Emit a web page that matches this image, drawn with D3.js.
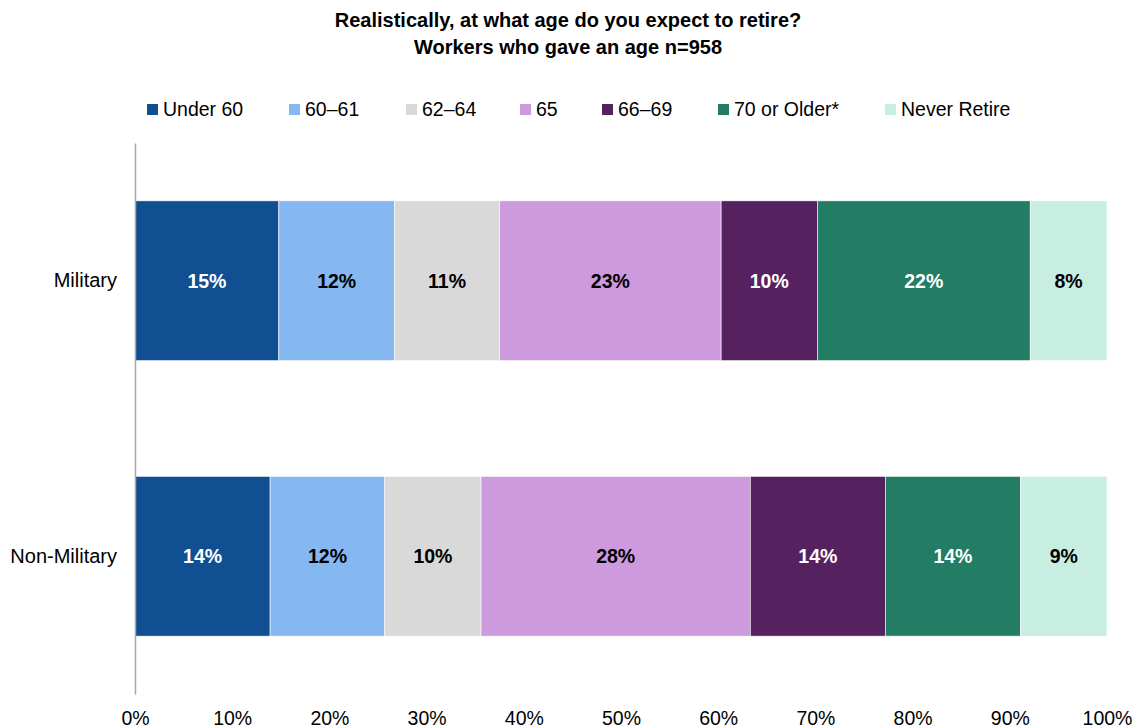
<!DOCTYPE html>
<html>
<head>
<meta charset="utf-8">
<script src="https://cdn.jsdelivr.net/npm/d3@7"></script>
<style>
  html, body { margin: 0; padding: 0; background: #fff; }
  svg { display: block; font-family: "Liberation Sans", Arial, sans-serif; }
</style>
</head>
<body>
<svg id="chart" width="1135" height="728"></svg>
<script>
const titleLines = ["Realistically, at what age do you expect to retire?", "Workers who gave an age n=958"];
const categories = ["Military", "Non-Military"];
const seriesNames = ["Under 60", "60\u201361", "62\u201364", "65", "66\u201369", "70 or Older*", "Never Retire"];
const seriesColors = ["#114F93", "#85B8F0", "#D9D9D9", "#CE9ADE", "#56215F", "#237C64", "#C8EEE2"];
const labelColors = ["#fff", "#000", "#000", "#000", "#fff", "#fff", "#000"];
const militaryValues = [14.8, 11.9, 10.8, 22.8, 9.9, 21.9, 7.9];
const nonMilitaryValues = [13.9, 11.8, 9.9, 27.7, 13.9, 13.9, 8.9];
const tickValues = [0, 10, 20, 30, 40, 50, 60, 70, 80, 90, 100];
const legendX = [147, 289, 406, 520, 602, 718, 885];

const valuesByCategory = [militaryValues, nonMilitaryValues];
const rows = categories.map((c, i) => {
  const r = { category: c };
  seriesNames.forEach((s, j) => r[s] = valuesByCategory[i][j]);
  return r;
});

const svg = d3.select("#chart");
const x = d3.scaleLinear().domain([0, 100]).range([135, 1107]);
const y = d3.scaleBand().domain(categories).range([143, 694]).paddingInner(0.42).paddingOuter(0.21);
const color = d3.scaleOrdinal().domain(seriesNames).range(seriesColors);
const labelColor = d3.scaleOrdinal().domain(seriesNames).range(labelColors);

// Title
svg.append("g").selectAll("text").data(titleLines).join("text")
  .attr("x", 568).attr("y", (d, i) => 27 + i * 27)
  .attr("text-anchor", "middle")
  .attr("font-weight", "bold").attr("font-size", 20)
  .attr("fill", "#000")
  .text(d => d);

// Legend
const leg = svg.append("g").selectAll("g").data(seriesNames).join("g")
  .attr("transform", (d, i) => `translate(${legendX[i]},0)`);
leg.append("rect").attr("x", 0).attr("y", 104).attr("width", 11).attr("height", 11)
  .attr("fill", d => color(d));
leg.append("text").attr("x", 16).attr("y", 116).attr("font-size", 19.5).attr("fill", "#000")
  .text(d => d);

// Stack
const stacked = d3.stack().keys(seriesNames)(rows);

const layers = svg.append("g").selectAll("g").data(stacked).join("g")
  .attr("fill", d => color(d.key));
layers.selectAll("rect").data(d => d.map(p => ({ p, key: d.key }))).join("rect")
  .attr("x", d => x(d.p[0]))
  .attr("width", d => x(d.p[1]) - x(d.p[0]))
  .attr("y", d => y(d.p.data.category))
  .attr("height", y.bandwidth())
  .attr("stroke", "#fff").attr("stroke-width", 0.6);

layers.selectAll("text").data(d => d.map(p => ({ p, key: d.key }))).join("text")
  .attr("x", d => (x(d.p[0]) + x(d.p[1])) / 2)
  .attr("y", d => y(d.p.data.category) + y.bandwidth() / 2)
  .attr("dy", "0.35em")
  .attr("text-anchor", "middle")
  .attr("font-weight", "bold").attr("font-size", 19.5)
  .attr("fill", d => labelColor(d.key))
  .text(d => d3.format(".0f")(d.p[1] - d.p[0]) + "%");

// Y axis
const yAxis = svg.append("g").attr("transform", "translate(135,0)")
  .call(d3.axisLeft(y).tickSize(0).tickPadding(18));
yAxis.select(".domain").attr("stroke", "#A6A6A6").attr("stroke-width", 1.5);
yAxis.selectAll("text").attr("font-size", 20).attr("fill", "#000")
  .attr("font-family", "Liberation Sans, Arial, sans-serif");

// X axis (labels only)
const xAxis = svg.append("g").attr("transform", "translate(0,704)")
  .call(d3.axisBottom(x).tickValues(tickValues).tickSize(0).tickPadding(7).tickFormat(d => d + "%"));
xAxis.select(".domain").remove();
xAxis.selectAll("text").attr("font-size", 19.5).attr("fill", "#000")
  .attr("font-family", "Liberation Sans, Arial, sans-serif");
</script>
</body>
</html>
